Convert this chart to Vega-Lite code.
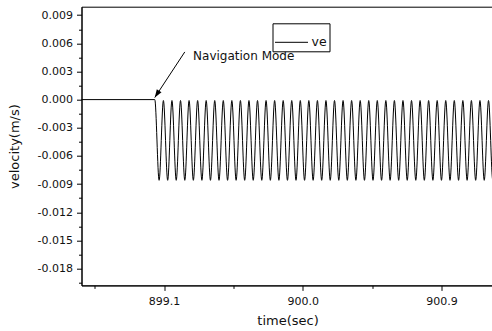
{
  "$schema": "https://vega.github.io/schema/vega-lite/v6.json",
  "width": 412,
  "height": 278.7,
  "autosize": "none",
  "padding": {"left": 81.5, "top": 6.7, "right": 0, "bottom": 45.6},
  "background": "white",
  "config": {
    "font": "DejaVu Sans",
    "view": {"stroke": "black", "strokeWidth": 1},
    "locale": {"number": {"decimal": ".", "thousands": ",", "grouping": [3], "currency": ["$", ""], "minus": "-"}},
    "axis": {
      "domainColor": "black", "tickColor": "black", "labelColor": "#111", "titleColor": "#111",
      "labelFont": "DejaVu Sans", "titleFont": "DejaVu Sans", "labelFontSize": 11, "titleFontSize": 13,
      "titleFontWeight": "normal", "grid": false, "tickSize": 5, "labelPadding": 4
    },
    "legend": {
      "orient": "none", "legendX": 191, "legendY": 16.6, "symbolType": "stroke", "symbolSize": 1089,
      "symbolStrokeWidth": 1, "strokeColor": "black", "fillColor": "white", "padding": 2,
      "labelFontSize": 12.5, "labelOffset": 3, "labelFont": "DejaVu Sans", "labelColor": "#111", "cornerRadius": 0
    }
  },
  "datasets": {
    "wave": [
      {"t": 898.56, "v": 0, "s": "ve"},
      {"t": 899.0396, "v": 0, "s": "ve"},
      {"t": 899.0677, "v": -0.0086, "s": "ve"}, {"t": 899.0955, "v": -0.0001, "s": "ve"},
      {"t": 899.1232, "v": -0.0086, "s": "ve"}, {"t": 899.1510, "v": -0.0001, "s": "ve"},
      {"t": 899.1787, "v": -0.0086, "s": "ve"}, {"t": 899.2065, "v": -0.0001, "s": "ve"},
      {"t": 899.2343, "v": -0.0086, "s": "ve"}, {"t": 899.2621, "v": -0.0001, "s": "ve"},
      {"t": 899.2898, "v": -0.0086, "s": "ve"}, {"t": 899.3176, "v": -0.0001, "s": "ve"},
      {"t": 899.3453, "v": -0.0086, "s": "ve"}, {"t": 899.3731, "v": -0.0001, "s": "ve"},
      {"t": 899.4008, "v": -0.0086, "s": "ve"}, {"t": 899.4286, "v": -0.0001, "s": "ve"},
      {"t": 899.4563, "v": -0.0086, "s": "ve"}, {"t": 899.4841, "v": -0.0001, "s": "ve"},
      {"t": 899.5119, "v": -0.0086, "s": "ve"}, {"t": 899.5397, "v": -0.0001, "s": "ve"},
      {"t": 899.5674, "v": -0.0086, "s": "ve"}, {"t": 899.5952, "v": -0.0001, "s": "ve"},
      {"t": 899.6229, "v": -0.0086, "s": "ve"}, {"t": 899.6507, "v": -0.0001, "s": "ve"},
      {"t": 899.6784, "v": -0.0086, "s": "ve"}, {"t": 899.7062, "v": -0.0001, "s": "ve"},
      {"t": 899.7339, "v": -0.0086, "s": "ve"}, {"t": 899.7617, "v": -0.0001, "s": "ve"},
      {"t": 899.7895, "v": -0.0086, "s": "ve"}, {"t": 899.8173, "v": -0.0001, "s": "ve"},
      {"t": 899.8450, "v": -0.0086, "s": "ve"}, {"t": 899.8728, "v": -0.0001, "s": "ve"},
      {"t": 899.9005, "v": -0.0086, "s": "ve"}, {"t": 899.9283, "v": -0.0001, "s": "ve"},
      {"t": 899.9560, "v": -0.0086, "s": "ve"}, {"t": 899.9838, "v": -0.0001, "s": "ve"},
      {"t": 900.0115, "v": -0.0086, "s": "ve"}, {"t": 900.0393, "v": -0.0001, "s": "ve"},
      {"t": 900.0671, "v": -0.0086, "s": "ve"}, {"t": 900.0949, "v": -0.0001, "s": "ve"},
      {"t": 900.1226, "v": -0.0086, "s": "ve"}, {"t": 900.1504, "v": -0.0001, "s": "ve"},
      {"t": 900.1781, "v": -0.0086, "s": "ve"}, {"t": 900.2059, "v": -0.0001, "s": "ve"},
      {"t": 900.2336, "v": -0.0086, "s": "ve"}, {"t": 900.2614, "v": -0.0001, "s": "ve"},
      {"t": 900.2891, "v": -0.0086, "s": "ve"}, {"t": 900.3169, "v": -0.0001, "s": "ve"},
      {"t": 900.3447, "v": -0.0086, "s": "ve"}, {"t": 900.3725, "v": -0.0001, "s": "ve"},
      {"t": 900.4002, "v": -0.0086, "s": "ve"}, {"t": 900.4280, "v": -0.0001, "s": "ve"},
      {"t": 900.4557, "v": -0.0086, "s": "ve"}, {"t": 900.4835, "v": -0.0001, "s": "ve"},
      {"t": 900.5112, "v": -0.0086, "s": "ve"}, {"t": 900.5390, "v": -0.0001, "s": "ve"},
      {"t": 900.5667, "v": -0.0086, "s": "ve"}, {"t": 900.5945, "v": -0.0001, "s": "ve"},
      {"t": 900.6223, "v": -0.0086, "s": "ve"}, {"t": 900.6501, "v": -0.0001, "s": "ve"},
      {"t": 900.6778, "v": -0.0086, "s": "ve"}, {"t": 900.7056, "v": -0.0001, "s": "ve"},
      {"t": 900.7333, "v": -0.0086, "s": "ve"}, {"t": 900.7611, "v": -0.0001, "s": "ve"},
      {"t": 900.7888, "v": -0.0086, "s": "ve"}, {"t": 900.8166, "v": -0.0001, "s": "ve"},
      {"t": 900.8443, "v": -0.0086, "s": "ve"}, {"t": 900.8721, "v": -0.0001, "s": "ve"},
      {"t": 900.8999, "v": -0.0086, "s": "ve"}, {"t": 900.9277, "v": -0.0001, "s": "ve"},
      {"t": 900.9554, "v": -0.0086, "s": "ve"}, {"t": 900.9832, "v": -0.0001, "s": "ve"},
      {"t": 901.0109, "v": -0.0086, "s": "ve"}, {"t": 901.0387, "v": -0.0001, "s": "ve"},
      {"t": 901.0664, "v": -0.0086, "s": "ve"}, {"t": 901.0942, "v": -0.0001, "s": "ve"},
      {"t": 901.1219, "v": -0.0086, "s": "ve"}, {"t": 901.1497, "v": -0.0001, "s": "ve"},
      {"t": 901.1775, "v": -0.0086, "s": "ve"}, {"t": 901.2053, "v": -0.0001, "s": "ve"},
      {"t": 901.2330, "v": -0.0086, "s": "ve"}, {"t": 901.2608, "v": -0.0001, "s": "ve"}
    ],
    "note": [{"t": 899.2882, "v": 0.0046, "label": "Navigation Mode"}],
    "arrow": [{"t": 899.2343, "v": 0.00508, "t2": 899.0396, "v2": 0.00022}]
  },
  "layer": [
    {
      "data": {"name": "wave"},
      "mark": {"type": "line", "interpolate": "monotone", "strokeWidth": 1, "clip": true},
      "encoding": {
        "x": {"field": "t", "type": "quantitative",
          "scale": {"domain": [898.564, 901.2376], "nice": false, "zero": false},
          "axis": {"values": [899.1, 900.0, 900.9], "format": ".1f", "title": "time(sec)", "orient": "bottom", "labelPadding": 5, "titlePadding": 8}},
        "y": {"field": "v", "type": "quantitative",
          "scale": {"domain": [-0.0198, 0.0099], "nice": false, "zero": false},
          "axis": {"values": [0.009, 0.006, 0.003, 0, -0.003, -0.006, -0.009, -0.012, -0.015, -0.018], "format": ".3f", "title": "velocity(m/s)", "orient": "left", "titlePadding": 16}},
        "color": {"field": "s", "type": "nominal", "scale": {"range": ["black"]}, "legend": {"title": null}}
      }
    },
    {
      "data": {"name": "wave"},
      "mark": {"type": "line", "opacity": 0},
      "encoding": {
        "x": {"field": "t", "type": "quantitative",
          "axis": {"values": [898.65, 899.55, 900.45, 901.35], "labels": false, "domain": false, "tickSize": 3, "title": null, "orient": "bottom"}},
        "y": {"field": "v", "type": "quantitative",
          "axis": {"values": [0.0075, 0.0045, 0.0015, -0.0015, -0.0045, -0.0075, -0.0105, -0.0135, -0.0165, -0.0195], "labels": false, "domain": false, "tickSize": 3, "title": null, "orient": "left"}}
      }
    },
    {
      "data": {"name": "arrow"},
      "mark": {"type": "rule", "color": "black", "strokeWidth": 1},
      "encoding": {
        "x": {"field": "t", "type": "quantitative", "axis": null},
        "y": {"field": "v", "type": "quantitative", "axis": null},
        "x2": {"field": "t2"},
        "y2": {"field": "v2"}
      }
    },
    {
      "data": {"name": "arrow"},
      "mark": {"type": "point", "shape": "M0,0L0.35,1L-0.35,1Z", "filled": true, "color": "black", "opacity": 1, "size": 256, "angle": 213},
      "encoding": {
        "x": {"field": "t2", "type": "quantitative", "axis": null},
        "y": {"field": "v2", "type": "quantitative", "axis": null}
      }
    },
    {
      "data": {"name": "note"},
      "mark": {"type": "text", "align": "left", "baseline": "middle", "font": "DejaVu Sans", "fontSize": 12, "color": "#111"},
      "encoding": {
        "x": {"field": "t", "type": "quantitative", "axis": null},
        "y": {"field": "v", "type": "quantitative", "axis": null},
        "text": {"field": "label"}
      }
    }
  ],
  "resolve": {"axis": {"x": "independent", "y": "independent"}}
}
